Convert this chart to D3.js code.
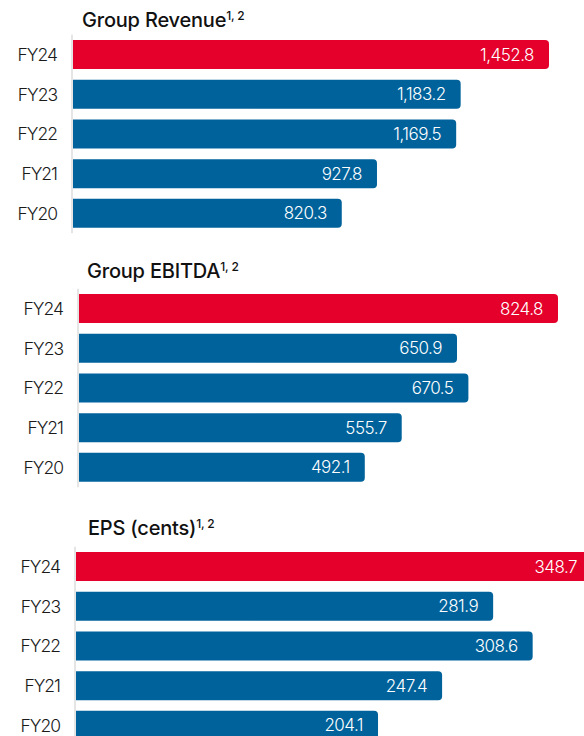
<!DOCTYPE html>
<html>
<head>
    <meta charset="utf-8">
    <title>Group results FY20-FY24</title>
    <script src="https://cdnjs.cloudflare.com/ajax/libs/d3/7.8.5/d3.min.js"></script>
    <style>
        body { margin: 0; background: #fff; }
        svg { display: block; }
    </style>
</head>
<body>
    <script>
        // data
        const years = ["FY24", "FY23", "FY22", "FY21", "FY20"];
        const revenue = [1452.8, 1183.2, 1169.5, 927.8, 820.3];
        const ebitda = [824.8, 650.9, 670.5, 555.7, 492.1];
        const eps = [348.7, 281.9, 308.6, 247.4, 204.1];
        const titles = ["Group Revenue", "Group EBITDA", "EPS (cents)"];
        const footnote = "1, 2";

        const width = 584, height = 736;
        const red = "#e4002b", blue = "#00629b";
        const font = "Inter, 'Noto Sans', sans-serif";

        const svg = d3.select("body").append("svg")
            .attr("width", width)
            .attr("height", height);

        // layout for each panel: axis x, top of band range, pixel length of the max value
        const panels = [
            { title: titles[0], values: revenue, axisX: 72, top: 34.7, len: 476, titleX: 82, titleY: 27 },
            { title: titles[1], values: ebitda, axisX: 78, top: 288.7, len: 479, titleX: 87, titleY: 278 },
            { title: titles[2], values: eps, axisX: 75, top: 546.7, len: 516, titleX: 88, titleY: 535 }
        ];

        const step = 39.7;
        const fmt = d3.format(",.1f");

        function barPath(x0, x1, y, h, r) {
            return `M${x0},${y}H${x1 - r}Q${x1},${y} ${x1},${y + r}V${y + h - r}Q${x1},${y + h} ${x1 - r},${y + h}H${x0}Z`;
        }

        panels.forEach(p => {
            const g = svg.append("g");

            const x = d3.scaleLinear()
                .domain([0, d3.max(p.values)])
                .range([p.axisX + 1, p.axisX + 1 + p.len]);

            const y = d3.scaleBand()
                .domain(years)
                .range([p.top, p.top + step * years.length])
                .paddingInner(0.27)
                .paddingOuter(0.135);

            // title with superscript note
            const t = g.append("text")
                .attr("x", p.titleX)
                .attr("y", p.titleY)
                .attr("font-family", font)
                .attr("font-size", 20)
                .attr("font-weight", 500)
                .attr("letter-spacing", -0.2)
                .attr("fill", "#111")
                .text(p.title);
            t.append("tspan")
                .attr("font-size", 12)
                .attr("dy", -7)
                .attr("letter-spacing", -0.2)
                .text(footnote);

            // bars
            const rows = g.selectAll("g.row")
                .data(years.map((d, i) => ({ year: d, value: p.values[i], i })))
                .join("g")
                .attr("class", "row");

            rows.append("path")
                .attr("d", d => barPath(x(0), x(d.value), y(d.year), y.bandwidth(), 4))
                .attr("fill", d => d.i === 0 ? red : blue);

            rows.append("text")
                .attr("x", d => x(d.value) - 15)
                .attr("y", d => y(d.year) + y.bandwidth() / 2)
                .attr("dy", "0.36em")
                .attr("text-anchor", "end")
                .attr("font-family", font)
                .attr("font-size", 17)
                .attr("font-weight", 300)
                .attr("letter-spacing", -0.5)
                .attr("fill", "#fff")
                .text(d => fmt(d.value));

            // category labels
            rows.append("text")
                .attr("x", p.axisX - 15)
                .attr("y", d => y(d.year) + y.bandwidth() / 2)
                .attr("dy", "0.36em")
                .attr("text-anchor", "end")
                .attr("font-family", font)
                .attr("font-size", 17.5)
                .attr("font-weight", 300)
                .attr("letter-spacing", -1)
                .attr("fill", "#1a1a1a")
                .text(d => d.year);

            // axis line
            g.append("line")
                .attr("x1", p.axisX).attr("x2", p.axisX)
                .attr("y1", y.range()[0]).attr("y2", y.range()[1])
                .attr("stroke", "#dcdcdc")
                .attr("stroke-width", 1.5);
        });
    </script>
</body>
</html>
